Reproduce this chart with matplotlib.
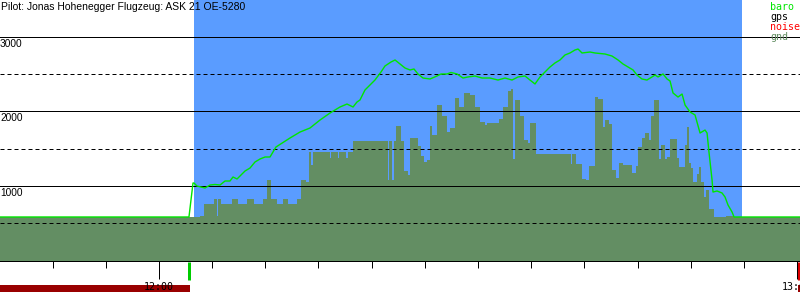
import matplotlib
matplotlib.use("Agg")
import matplotlib.pyplot as plt
from matplotlib.ticker import MultipleLocator, FuncFormatter
import matplotlib.transforms as mtrans

# ---------------- data ----------------
title = "Pilot: Jonas Hohenegger Flugzeug: ASK 21 OE-5280"
legend_labels = ["baro", "gps", "noise", "gnd"]
y_labels = [1000, 2000, 3000]
solid_levels = [1000, 2000, 3000]
dashed_levels = [500, 1500, 2500]

# times in minutes after 12:00
view_t = (-14.95, 60.28)
view_alt = (-530, 3496)
flight_start, flight_end = 3.29, 54.83
takeoff_mark = 2.85
landing_mark = 60.14
noise_start = [-14.95, 60.12]
noise_end = [2.92, 60.40]

# ground elevation under the track (step, start time of each step)
gnd_t = [-15.0, 3.86, 4.23, 5.17, 5.45, 5.55, 5.83, 6.87, 7.43, 8.28,
         8.93, 9.78, 10.16, 10.53, 11.10, 11.66, 12.13, 12.98, 13.35, 13.82,
         14.11, 14.30, 14.48, 16.08, 16.18, 16.83, 16.93, 17.59, 17.77, 18.25,
         21.54, 21.63, 21.91, 22.10, 22.29, 22.76, 23.04, 23.42, 23.61, 24.36,
         24.64, 24.92, 25.21, 25.49, 25.67, 26.14, 26.62, 27.09, 27.37, 27.84,
         28.21, 28.68, 29.25, 29.72, 30.19, 30.66, 30.85, 31.98, 32.35, 32.82,
         33.10, 33.29, 33.48, 33.95, 34.33, 34.70, 34.89, 35.46, 38.75, 38.84,
         39.22, 39.78, 40.16, 40.44, 41.00, 41.29, 41.76, 41.95, 42.32, 42.60,
         42.98, 43.26, 43.64, 44.48, 44.86, 45.05, 45.42, 45.71, 46.08, 46.27,
         46.55, 47.02, 47.21, 47.59, 47.78, 48.06, 48.72, 48.90, 49.47, 49.66,
         49.85, 50.03, 50.22, 50.60, 50.79, 50.97, 51.26, 51.44, 51.73, 52.20,
         53.33, 54.08]
gnd_alt = [590, 600, 760, 825, 600, 825, 760, 825, 760, 825,
           760, 825, 1080, 825, 760, 825, 760, 825, 1080, 1053,
           1456, 1282, 1456, 1376, 1456, 1376, 1456, 1376, 1456, 1604,
           1080, 1604, 1080, 1604, 1805, 1604, 1201, 1147, 1644, 1537,
           1402, 1322, 1349, 1805, 1684, 2087, 1939, 1724, 1778, 2181,
           2060, 2248, 2221, 2060, 1859, 1818, 1845, 1899, 2060, 2281,
           2302, 1362, 2154, 1939, 1617, 1577, 1845, 1429, 1295, 1429,
           1295, 1094, 1080, 1268, 2194, 2167, 1792, 1886, 1832, 1215,
           1107, 1308, 1282, 1174, 1268, 1523, 1644, 1711, 1617, 1939,
           2154, 1362, 1550, 1362, 1389, 1630, 1376, 1255, 1550, 1792,
           1308, 1241, 1053, 1161, 1255, 1053, 852, 946, 691, 584,
           597, 584]
gnd_end = 60.5

# barometric altitude
baro_t = [-14.95, 2.45, 2.82, 3.20, 3.29, 3.57, 3.95, 4.33, 4.80, 5.27,
          5.74, 6.21, 6.68, 6.96, 7.34, 7.62, 8.09, 8.56, 9.03, 9.50,
          9.97, 10.44, 11.00, 12.32, 13.26, 14.20, 15.14, 16.08, 17.02, 17.68,
          18.25, 18.62, 18.90, 19.37, 19.84, 20.31, 20.88, 21.25, 21.82, 22.20,
          22.67, 23.14, 23.61, 23.98, 24.36, 24.83, 25.49, 26.14, 26.52, 27.09,
          27.46, 28.03, 28.59, 29.06, 29.72, 30.38, 31.13, 31.88, 32.54, 33.20,
          33.76, 34.42, 34.89, 35.36, 35.83, 36.30, 36.77, 37.24, 37.71, 38.18,
          38.65, 39.12, 39.41, 39.78, 40.53, 41.00, 41.95, 42.60, 43.17, 43.64,
          44.11, 44.58, 44.95, 45.42, 45.89, 46.36, 46.65, 46.93, 47.40, 47.78,
          48.06, 48.34, 48.81, 49.19, 49.47, 49.94, 50.41, 50.88, 51.35, 51.54,
          51.73, 52.01, 52.10, 52.48, 52.95, 53.23, 53.51, 53.89, 54.08, 60.28]
baro_alt = [584, 584, 584, 1040, 1040, 1000, 986, 973, 1013, 1020,
            1013, 1067, 1067, 1121, 1094, 1134, 1201, 1241, 1322, 1362,
            1389, 1389, 1523, 1644, 1724, 1778, 1885, 1979, 2060, 2100,
            2060, 2127, 2154, 2288, 2355, 2422, 2530, 2610, 2664, 2691,
            2637, 2583, 2557, 2570, 2503, 2449, 2436, 2476, 2503, 2503,
            2523, 2503, 2449, 2463, 2476, 2449, 2449, 2422, 2449, 2422,
            2463, 2476, 2422, 2369, 2463, 2530, 2597, 2651, 2691, 2758,
            2785, 2825, 2838, 2785, 2798, 2785, 2771, 2744, 2691, 2637,
            2597, 2557, 2489, 2436, 2422, 2463, 2489, 2463, 2503, 2436,
            2409, 2248, 2194, 2234, 2087, 1993, 1953, 1711, 1751, 1711,
            1443, 1080, 919, 933, 906, 852, 745, 651, 584, 584]

# ---------------- style ----------------
C_BLUE = "#5a9cff"
C_GND = "#638e63"
C_BARO = "#00e600"
C_NOISE_BAR = "#990000"
C_RED = "#dd0000"
C_TAKEOFF = "#00cc00"
PX = 72 / 100.0  # one pixel in points

fig = plt.figure(figsize=(8, 3), dpi=100)
ax = fig.add_axes([0, 0, 1, 1])
ax.set_xlim(*view_t)
ax.set_ylim(*view_alt)
ax.set_facecolor("white")

# flight period (blue), only above altitude 0
ylo, yhi = view_alt
ax.axvspan(flight_start, flight_end, ymin=(0 - ylo) / (yhi - ylo), ymax=1,
           color=C_BLUE, lw=0, zorder=0.5)

# ground
ax.stairs(gnd_alt, gnd_t + [gnd_end], baseline=0, fill=True,
          color=C_GND, lw=0, zorder=1)

# grid lines
for lv in solid_levels:
    ax.axhline(lv, color="black", lw=PX, zorder=3)
for lv in dashed_levels:
    ax.axhline(lv, color="black", lw=PX, ls=(0, (4, 3)), zorder=3)

# baro line
ax.plot(baro_t, baro_alt, color=C_BARO, lw=1.4 * PX * 1.0 / 0.72 * 0.72, zorder=4)

# time axis
for s in ["left", "right", "top"]:
    ax.spines[s].set_visible(False)
ax.spines["bottom"].set_position(("data", 0))
ax.spines["bottom"].set_linewidth(PX)
ax.spines["bottom"].set_zorder(3)
ax.yaxis.set_visible(False)
ax.xaxis.set_major_locator(MultipleLocator(60))
ax.xaxis.set_minor_locator(MultipleLocator(5))
ax.xaxis.set_major_formatter(
    FuncFormatter(lambda v, p: f"{12 + int(v // 60)}:{int(v % 60):02d}"))
ax.tick_params(axis="x", which="major", direction="out", length=18 * PX,
               width=PX, pad=2.5, labelsize=7.2)
ax.tick_params(axis="x", which="minor", direction="out", length=7 * PX,
               width=PX)
for lab in ax.get_xticklabels():
    lab.set_family("DejaVu Sans Mono")

# markers below the axis
ax.vlines(takeoff_mark, -265, -15, color=C_TAKEOFF, lw=3 * PX, zorder=5)
ax.vlines(landing_mark, -265, -15, color=C_RED, lw=3 * PX, zorder=5)

# noise bar
for a, b in zip(noise_start, noise_end):
    ax.fill_between([a, b], -423, -329, color=C_NOISE_BAR, lw=0, zorder=1)

# altitude labels
trans = mtrans.blended_transform_factory(ax.transAxes, ax.transData)
trans = mtrans.offset_copy(trans, fig=fig, x=0, y=-2, units="dots")
for lv in y_labels:
    ax.text(0.0, lv, str(lv), transform=trans, ha="left", va="top",
            fontsize=7.3, family="Liberation Sans", zorder=6)

# title
fig.text(0.001, 1 - 10.5 / 300, title, ha="left", va="baseline",
         fontsize=7.5, family="Liberation Sans")

# legend
leg_colors = [C_BARO, "black", "#ff0000", C_GND]
for i, (lab, col) in enumerate(zip(legend_labels, leg_colors)):
    fig.text(770 / 800, 1 - (10.5 + 10 * i) / 300, lab, ha="left",
             va="baseline", fontsize=7.2, family="DejaVu Sans Mono", color=col)

fig.savefig("out.png", dpi=100)
